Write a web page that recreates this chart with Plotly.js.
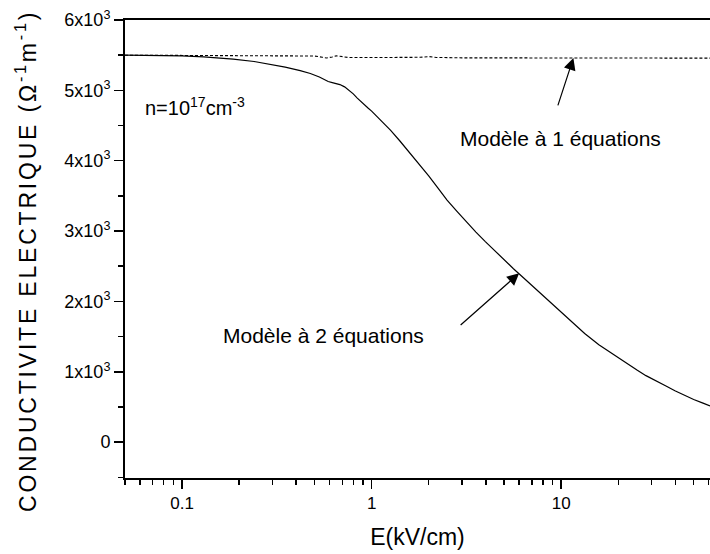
<!DOCTYPE html>
<html>
<head>
<meta charset="utf-8">
<script src="https://cdn.plot.ly/plotly-3.0.1.min.js"></script>
<style>
html,body{margin:0;padding:0;background:#fff;}
#chart{width:710px;height:554px;}
</style>
</head>
<body>
<div id="chart"></div>
<script>
// Field E (kV/cm) and conductivity, two-equation model (solid)
const E2 = [0.05,0.07,0.1,0.13,0.186,0.24,0.29,0.35,0.42,0.475,0.53,0.56,0.59,0.62,0.65,0.68,0.72,0.76,0.8,0.84,0.88,0.92,0.96,1.0,1.12,1.26,1.41,1.58,1.78,2.0,2.24,2.5,2.82,3.16,3.55,3.98,4.47,5.0,5.6,6.3,7.08,7.94,8.9,10,11.5,13.3,15.8,17.8,20,22.4,25.1,28,31.3,35.5,39.8,44.7,50,56,61];
const S2 = [5500,5498,5490,5475,5444,5410,5373,5330,5280,5240,5190,5155,5125,5110,5100,5082,5050,5005,4950,4890,4835,4785,4745,4705,4575,4430,4280,4120,3952,3785,3610,3440,3280,3130,2985,2850,2715,2590,2465,2340,2215,2090,1965,1840,1690,1545,1385,1290,1200,1110,1025,945,872,800,730,665,605,555,515];
// One-equation model (dashed)
const E1 = [0.05,0.1,0.2,0.3,0.4,0.5,0.55,0.58,0.62,0.65,0.68,0.75,1.0,1.5,1.8,2.0,2.2,3,10,61];
const S1 = [5500,5498,5495,5493,5490,5488,5470,5460,5475,5490,5485,5468,5466,5465,5470,5480,5468,5462,5460,5458];

const yTickVals = [0,1000,2000,3000,4000,5000,6000];
const yTickText = ["0","1x10<sup>3</sup>","2x10<sup>3</sup>","3x10<sup>3</sup>","4x10<sup>3</sup>","5x10<sup>3</sup>","6x10<sup>3</sup>"];
const xTickVals = [0.1,1,10];
const xTickText = ["0.1","1","10"];
const xMinorVals = [0.05,0.06,0.07,0.08,0.09,0.2,0.3,0.4,0.5,0.6,0.7,0.8,0.9,2,3,4,5,6,7,8,9,20,30,40,50,60];
const yTitle = 'CONDUCTIVITE ELECTRIQUE (Ω<sup>-1</sup>m<sup>-1</sup>)';

const FONT = "Liberation Sans, Arial, sans-serif";

const traces = [
  {x:E1, y:S1, mode:'lines', line:{color:'#000', width:1.1, dash:'3px,2px'}, hoverinfo:'skip'},
  {x:E2, y:S2, mode:'lines', line:{color:'#000', width:1.2}, hoverinfo:'skip'}
];

const layout = {
  width:710, height:554,
  margin:{l:125, r:0, t:20, b:76},
  paper_bgcolor:'#fff', plot_bgcolor:'#fff',
  showlegend:false,
  font:{family:FONT, color:'#000', size:18},
  xaxis:{
    type:'log', range:[Math.log10(0.05), 1.785],
    tickmode:'array', tickvals:xTickVals, ticktext:xTickText,
    ticks:'outside', ticklen:9, tickwidth:1.5, tickcolor:'#000',
    minor:{tickmode:'array', tickvals:xMinorVals, ticks:'outside', ticklen:5, tickwidth:1.5, tickcolor:'#000'},
    showline:true, linecolor:'#000', linewidth:2, mirror:true,
    showgrid:false, zeroline:false,
    tickfont:{size:17, color:'#000'},
    title:{text:'E(kV/cm)', font:{size:23, color:'#000'}, standoff:16}
  },
  yaxis:{
    range:[-510, 6000],
    tickmode:'array', tickvals:yTickVals, ticktext:yTickText,
    ticks:'outside', ticklen:9, tickwidth:1.5, tickcolor:'#000',
    minor:{dtick:500, ticks:'outside', ticklen:5, tickwidth:1.5, tickcolor:'#000'},
    showline:true, linecolor:'#000', linewidth:2, mirror:false,
    showgrid:false, zeroline:false,
    tickfont:{size:18, color:'#000'}
  },
  annotations:[
    {xref:'paper', yref:'paper', x:(26-125)/585, y:(478-261)/458, xanchor:'center', yanchor:'middle',
     textangle:-90, text:'<span style="letter-spacing:2.8px">'+yTitle+'</span>', showarrow:false,
     font:{size:23, color:'#000'}},
    {xref:'paper', yref:'paper', x:18/585, y:(478-106)/458, xanchor:'left', yanchor:'middle',
     text:'n=10<sup>17</sup>cm<sup>-3</sup>', showarrow:false, font:{size:20, color:'#000'}},
    {xref:'paper', yref:'paper', x:(458-125)/585, y:(478-138)/458, xanchor:'left', yanchor:'middle',
     text:'Modèle à 1 équations', showarrow:false, font:{size:21, color:'#000'}},
    {xref:'paper', yref:'paper', x:(221-125)/585, y:(478-335)/458, xanchor:'left', yanchor:'middle',
     text:'Modèle à 2 équations', showarrow:false, font:{size:21, color:'#000'}},
    {xref:'x', yref:'y', x:Math.log10(11.6), y:5461, text:'', showarrow:true,
     arrowhead:2, arrowsize:2, arrowwidth:1.2, arrowcolor:'#000', ax:-16, ay:49},
    {xref:'x', yref:'y', x:Math.log10(6.0), y:2400, text:'', showarrow:true,
     arrowhead:2, arrowsize:2, arrowwidth:1.2, arrowcolor:'#000', ax:-60, ay:53}
  ]
};

Plotly.newPlot('chart', traces, layout, {staticPlot:true, displayModeBar:false});
</script>
</body>
</html>
